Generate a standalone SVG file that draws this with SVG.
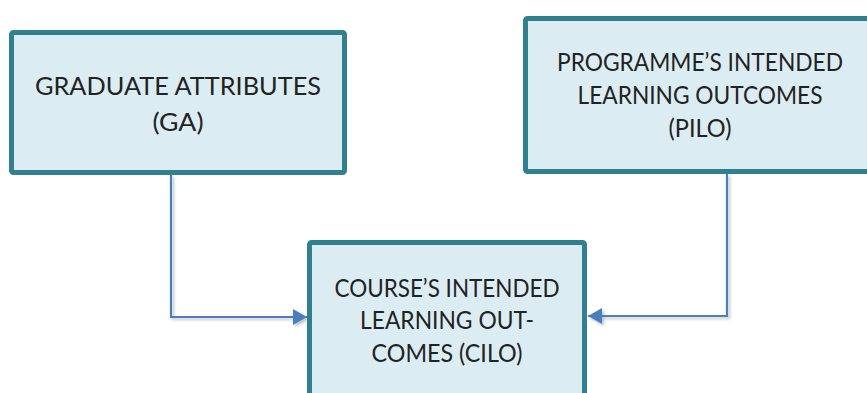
<svg xmlns="http://www.w3.org/2000/svg" width="867" height="393" viewBox="0 0 867 393">
  <defs>
    <style>
      .box { fill: #dbedf3; stroke: #31808f; stroke-width: 5; }
      .label { font-family: "Lato", "Liberation Sans", sans-serif; font-size: 25px; fill: #222222; text-anchor: middle; }
      .wire { fill: none; stroke: #4a7ebf; stroke-width: 2.2; }
    </style>
    <marker id="arrow" viewBox="0 0 14 16" refX="14" refY="8" markerWidth="14" markerHeight="16" markerUnits="userSpaceOnUse" orient="auto">
      <path d="M0,0 L14,8 L0,16 Z" fill="#4a7ebf"/>
    </marker>
    <filter id="soft" x="-10%" y="-10%" width="130%" height="130%">
      <feGaussianBlur in="SourceAlpha" stdDeviation="1.5"/>
      <feOffset dx="2" dy="2" result="b"/>
      <feComponentTransfer><feFuncA type="linear" slope="0.25"/></feComponentTransfer>
      <feMerge><feMergeNode/><feMergeNode in="SourceGraphic"/></feMerge>
    </filter>
  </defs>

  <rect width="867" height="393" fill="#ffffff"/>

  <g id="connectors" filter="url(#soft)">
    <path class="wire" d="M171,175 V317 H307" marker-end="url(#arrow)"/>
    <path class="wire" d="M727,174 V316 H588" marker-end="url(#arrow)"/>
  </g>

  <g id="graduate-attributes">
    <rect class="box" x="11.5" y="32.5" width="333" height="140" rx="2"/>
    <text class="label" x="178" y="95" textLength="286" lengthAdjust="spacingAndGlyphs">GRADUATE ATTRIBUTES</text>
    <text class="label" x="178" y="131" textLength="51" lengthAdjust="spacingAndGlyphs">(GA)</text>
  </g>

  <g id="programme-ilo">
    <rect class="box" x="525.5" y="18.5" width="360" height="153" rx="2"/>
    <text class="label" x="700" y="71" textLength="286" lengthAdjust="spacingAndGlyphs">PROGRAMME’S INTENDED</text>
    <text class="label" x="700" y="104" textLength="245" lengthAdjust="spacingAndGlyphs">LEARNING OUTCOMES</text>
    <text class="label" x="700" y="137" textLength="63" lengthAdjust="spacingAndGlyphs">(PILO)</text>
  </g>

  <g id="course-ilo">
    <rect class="box" x="309.5" y="242.5" width="275" height="170" rx="2"/>
    <text class="label" x="447" y="297" textLength="225" lengthAdjust="spacingAndGlyphs">COURSE’S INTENDED</text>
    <text class="label" x="447" y="329" textLength="174" lengthAdjust="spacingAndGlyphs">LEARNING OUT-</text>
    <text class="label" x="447" y="362" textLength="151" lengthAdjust="spacingAndGlyphs">COMES (CILO)</text>
  </g>
</svg>
